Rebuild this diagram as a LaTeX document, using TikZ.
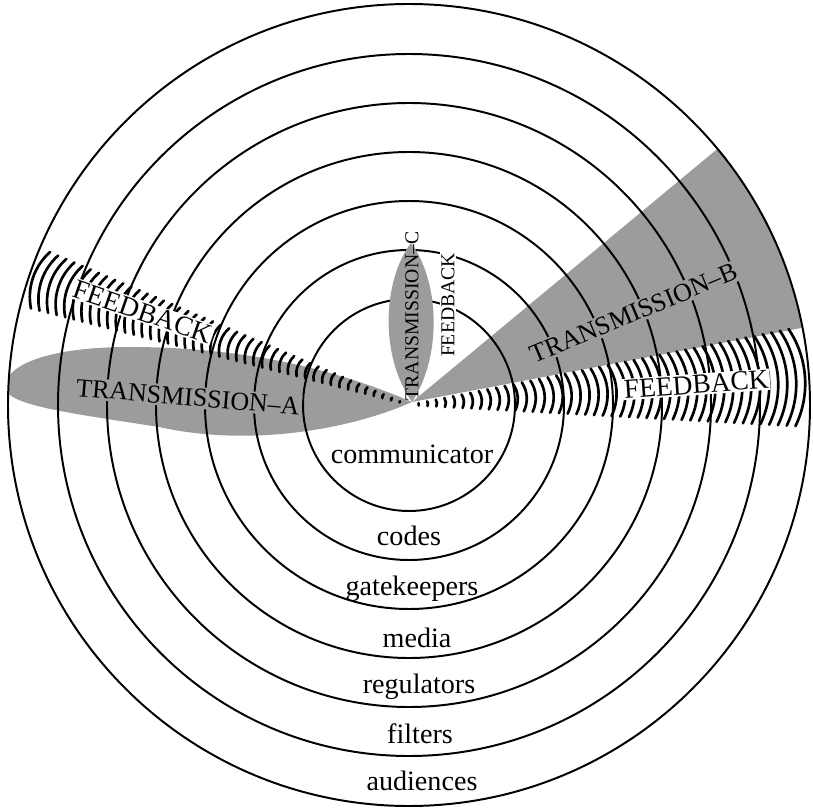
\documentclass[tikz,border=0pt]{standalone}
\usepackage{fontspec}
\setmainfont{Liberation Serif}
\usepackage{tikz}
\usetikzlibrary{calc}
\definecolor{Tshade}{HTML}{9C9C9C}

\begin{document}
\begin{tikzpicture}[
  x=0.025cm, y=0.025cm,
  ring/.style={draw=black, line width=1.4pt},
  wave/.style={line width=1.9pt, line cap=round},
  trans/.style={font=\fontsize{18.5}{20}\selectfont, inner sep=1.5pt, fill=Tshade},
  feed/.style={font=\fontsize{19.5}{21}\selectfont, inner sep=1pt, fill=white},
  small/.style={font=\fontsize{14}{16}\selectfont, inner sep=1pt},
  level/.style={font=\fontsize{20}{22}\selectfont, anchor=base},
]
  \useasboundingbox (-409,-403) rectangle (404,405);
  \coordinate (tip) at (3,3);

  % Transmission A and B
  \begin{scope}
    \clip (0,0) circle (401);
    \fill[Tshade] (tip) .. controls (-60,30) and (-150,58) .. (-280,58)
      .. controls (-360,58) and (-404,40) .. (-404,18)
      .. controls (-404,0) and (-340,-8) .. (-250,-22)
      .. controls (-160,-42) and (-60,-25) .. (tip) -- cycle;
    \fill[Tshade] (tip) -- (11.1:410) arc[start angle=11.1, end angle=39.7, radius=410] -- cycle;
  \end{scope}

  % Rings
  \foreach \r in {106,155,204,253,302,351,401}
    \draw[ring] (0,0) circle (\r);

  % Feedback waves
  \begin{scope}
    \clip (0,0) circle (401);
    \foreach \ax/\hw in {4.1/7, 161.3/4.3} {
      \foreach \d in {10,19,...,400} {
        \pgfmathsetmacro{\w}{\d*tan(\hw)}
        \pgfmathsetmacro{\rr}{2*\w}
        \pgfmathsetmacro{\cc}{\d-\rr}
        \draw[wave] ($(\ax:\cc)+(\ax-30:\rr)$)
          arc[start angle=\ax-30, end angle=\ax+30, radius=\rr];
      }
    }
  \end{scope}

  % Transmission C
  \fill[Tshade] (tip) .. controls (-30,50) and (-26,125) .. (2,162)
    .. controls (30,125) and (34,50) .. (tip) -- cycle;

  % Labels
  \node[trans, rotate=-4.8] (transA) at (-221,8) {TRANSMISSION–A};
  \node[trans, rotate=22.7] (transB) at (225,92) {TRANSMISSION–B};
  \node[small, rotate=90] (transC) at (3,89) {TRANSMISSION–C};
  \node[feed, rotate=-19] (feedA) at (160.7:282) {FEEDBACK};
  \node[feed, rotate=4.1] (feedB) at (4.1:288) {FEEDBACK};
  \node[small, fill=white, rotate=90] (feedC) at (39,100) {FEEDBACK};

  \foreach \txt/\yy/\dx in {communicator/-58/3, codes/-140/0, gatekeepers/-190/3,
      media/-242/8, regulators/-288/10, filters/-338/11, audiences/-385/13}
    \node[level] (\txt) at (\dx,\yy) {\txt};
\end{tikzpicture}
\end{document}
